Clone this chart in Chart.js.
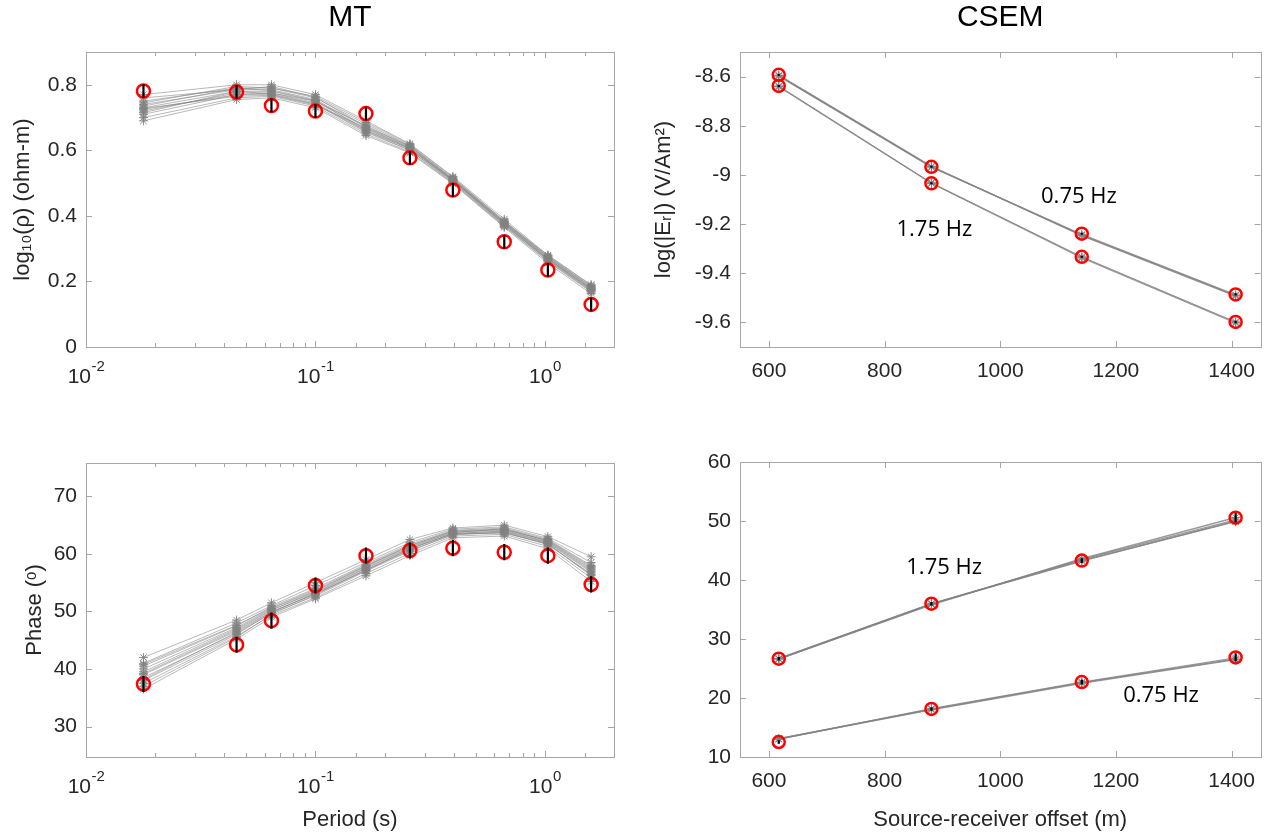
<!DOCTYPE html>
<html>
<head>
<meta charset="utf-8">
<script src="https://cdn.jsdelivr.net/npm/chart.js@4.4.1/dist/chart.umd.min.js"></script>
<style>
    body { margin: 0; background: #fff; width: 1269px; height: 840px; overflow: hidden; position: relative; }
    canvas { position: absolute; }
</style>
</head>
<body>
<canvas id="rhoChart" width="640" height="400" style="left:0px;top:0px"></canvas>
<canvas id="phaseChart" width="640" height="420" style="left:0px;top:420px"></canvas>
<canvas id="ampChart" width="629" height="400" style="left:640px;top:0px"></canvas>
<canvas id="csemPhaseChart" width="629" height="420" style="left:640px;top:420px"></canvas>
<script>
// ---- MT data (period in s) ----
const periods = [0.0178, 0.0453, 0.0643, 0.1, 0.166, 0.258, 0.397, 0.665, 1.03, 1.59];

const rhoObs = [0.781, 0.778, 0.737, 0.720, 0.712, 0.577, 0.479, 0.321, 0.235, 0.130];
const rhoErr = [0.021, 0.021, 0.021, 0.021, 0.021, 0.021, 0.021, 0.021, 0.021, 0.021];
const rhoModels = [
    [0.770, 0.800, 0.800, 0.770, 0.690, 0.620, 0.520, 0.390, 0.280, 0.190],
    [0.750, 0.790, 0.790, 0.760, 0.680, 0.615, 0.515, 0.385, 0.275, 0.185],
    [0.740, 0.785, 0.785, 0.755, 0.670, 0.610, 0.510, 0.380, 0.272, 0.180],
    [0.730, 0.780, 0.780, 0.750, 0.665, 0.608, 0.510, 0.378, 0.270, 0.178],
    [0.720, 0.775, 0.775, 0.745, 0.660, 0.605, 0.508, 0.375, 0.268, 0.176],
    [0.710, 0.770, 0.770, 0.740, 0.655, 0.600, 0.505, 0.372, 0.265, 0.172],
    [0.700, 0.760, 0.765, 0.735, 0.650, 0.595, 0.500, 0.368, 0.260, 0.168],
    [0.690, 0.755, 0.760, 0.730, 0.645, 0.592, 0.498, 0.365, 0.255, 0.163],
    [0.745, 0.795, 0.790, 0.765, 0.685, 0.618, 0.518, 0.383, 0.280, 0.188],
    [0.725, 0.770, 0.775, 0.750, 0.675, 0.612, 0.512, 0.380, 0.274, 0.182],
    [0.735, 0.790, 0.782, 0.752, 0.662, 0.604, 0.506, 0.374, 0.266, 0.174],
    [0.715, 0.780, 0.772, 0.742, 0.658, 0.600, 0.502, 0.370, 0.262, 0.170],
    [0.728, 0.765, 0.768, 0.738, 0.668, 0.606, 0.509, 0.376, 0.269, 0.177],
    [0.760, 0.785, 0.795, 0.762, 0.672, 0.613, 0.513, 0.382, 0.277, 0.184]
];

const phaseObs = [37.4, 44.2, 48.4, 54.5, 59.7, 60.6, 61.0, 60.3, 59.7, 54.7];
const phaseErr = [1.4, 1.4, 1.4, 1.4, 1.4, 1.4, 1.4, 1.4, 1.4, 1.4];
const phaseModels = [
    [42.0, 48.5, 51.5, 55.0, 59.0, 62.5, 64.5, 65.0, 63.0, 59.5],
    [41.0, 48.0, 51.0, 54.5, 58.5, 62.0, 64.3, 64.7, 62.7, 58.5],
    [40.5, 47.5, 50.8, 54.0, 58.2, 61.7, 64.1, 64.5, 62.5, 58.0],
    [40.0, 47.2, 50.5, 53.6, 57.9, 61.4, 64.0, 64.3, 62.3, 57.6],
    [39.5, 47.0, 50.3, 53.3, 57.6, 61.1, 63.8, 64.1, 62.1, 57.2],
    [39.0, 46.6, 50.0, 53.0, 57.3, 60.8, 63.6, 63.9, 61.9, 56.8],
    [38.5, 46.2, 49.7, 52.7, 57.0, 60.5, 63.4, 63.7, 61.7, 56.4],
    [37.5, 45.7, 49.3, 52.4, 56.6, 60.1, 63.1, 63.4, 61.3, 55.8],
    [36.5, 45.2, 49.0, 52.2, 56.2, 59.7, 62.8, 63.1, 60.9, 55.2],
    [38.0, 46.0, 49.8, 53.2, 57.5, 61.0, 63.5, 64.0, 62.0, 57.0],
    [40.8, 47.6, 50.6, 53.8, 58.0, 61.5, 63.9, 64.2, 62.4, 57.8],
    [37.0, 45.5, 49.5, 52.9, 57.2, 60.6, 63.3, 63.8, 61.6, 56.5],
    [39.2, 46.8, 50.2, 53.5, 57.8, 61.3, 63.7, 64.4, 62.2, 57.4],
    [38.2, 46.4, 49.9, 53.1, 57.1, 60.9, 63.5, 63.6, 61.8, 56.2]
];

// ---- CSEM data (source-receiver offset in m) ----
const offsets = [617, 881, 1141, 1407];

const ampObs075 = [-8.593, -8.967, -9.239, -9.486];
const ampObs175 = [-8.638, -9.034, -9.333, -9.598];
const ampErr = [0.004, 0.004, 0.004, 0.005];
const ampModels075 = [
    [-8.596, -8.966, -9.245, -9.490],
    [-8.598, -8.969, -9.242, -9.488],
    [-8.594, -8.965, -9.247, -9.493]
];
const ampModels175 = [
    [-8.640, -9.033, -9.335, -9.600],
    [-8.642, -9.035, -9.338, -9.603],
    [-8.638, -9.032, -9.333, -9.598]
];

const cphObs175 = [26.66, 35.98, 43.30, 50.56];
const cphObs075 = [12.54, 18.14, 22.70, 26.88];
const cphErr175 = [0.3, 0.3, 0.4, 0.8];
const cphErr075 = [0.3, 0.3, 0.4, 0.7];
const cphModels175 = [
    [26.60, 35.90, 43.50, 50.20],
    [26.70, 36.00, 43.30, 49.90],
    [26.60, 35.80, 43.60, 50.60],
    [26.65, 35.95, 43.20, 50.00]
];
const cphModels075 = [
    [13.10, 18.10, 22.60, 26.60],
    [13.00, 18.20, 22.70, 26.80],
    [13.10, 18.00, 22.50, 26.50]
];

// frequency annotations (data coordinates)
const ampLabels = [
    { text: '0.75 Hz', x: 1136, y: -9.089 },
    { text: '1.75 Hz', x: 886, y: -9.224 }
];
const cphLabels = [
    { text: '1.75 Hz', x: 903, y: 42.0 },
    { text: '0.75 Hz', x: 1278, y: 20.3 }
];

// ---- tick labels ----
const periodTicks = [0.01, 0.1, 1];
const rhoTicks = [0, 0.2, 0.4, 0.6, 0.8];
const phaseTicks = [30, 40, 50, 60, 70];
const offsetTicks = [600, 800, 1000, 1200, 1400];
const ampTicks = [-9.6, -9.4, -9.2, -9, -8.8, -8.6];
const cphTicks = [10, 20, 30, 40, 50, 60];

const fam = "'Liberation Sans', Arial, sans-serif";
const tickFont = { family: fam, size: 21 };
const labelFont = { family: fam, size: 22 };
const titleFont = { family: fam, size: 30, weight: 'normal' };
const axisColor = '#a6a6a6';
const textColor = '#262626';

function toPoints(xs, ys) {
    return xs.map((x, i) => ({ x: x, y: ys[i] }));
}

function modelSet(xs, ys, width) {
    return {
        data: toPoints(xs, ys),
        showLine: true,
        borderColor: 'rgba(130,130,130,0.8)',
        borderWidth: width,
        pointStyle: 'star',
        pointRadius: 4.5,
        pointBorderColor: 'rgba(130,130,130,0.9)',
        pointBorderWidth: 1,
        order: 2
    };
}

function obsSet(xs, ys, r) {
    return {
        data: toPoints(xs, ys),
        showLine: false,
        pointStyle: 'circle',
        pointRadius: r,
        pointBorderColor: '#ff0000',
        pointBackgroundColor: 'rgba(0,0,0,0)',
        pointBorderWidth: 2.5,
        order: 0
    };
}

// box round the axes with inward ticks on all four sides (MATLAB look)
const boxPlugin = {
    id: 'boxTicks',
    beforeDatasetsDraw(chart) {
        const ctx = chart.ctx, a = chart.chartArea;
        const xs = chart.scales.x, ys = chart.scales.y;
        ctx.save();
        ctx.strokeStyle = axisColor;
        ctx.lineWidth = 1;
        ctx.strokeRect(Math.round(a.left) + 0.5, Math.round(a.top) + 0.5,
            Math.round(a.right - a.left), Math.round(a.bottom - a.top));
        ctx.beginPath();
        xs.ticks.forEach(t => {
            if (t.value < xs.min || t.value > xs.max) return;
            let len = 6;
            if (xs.type === 'logarithmic') {
                const lg = Math.log10(t.value);
                if (Math.abs(lg - Math.round(lg)) > 1e-6) len = 4;
            }
            const px = Math.round(xs.getPixelForValue(t.value)) + 0.5;
            ctx.moveTo(px, a.bottom); ctx.lineTo(px, a.bottom - len);
            ctx.moveTo(px, a.top); ctx.lineTo(px, a.top + len);
        });
        ys.ticks.forEach(t => {
            const py = Math.round(ys.getPixelForValue(t.value)) + 0.5;
            ctx.moveTo(a.left, py); ctx.lineTo(a.left + 6, py);
            ctx.moveTo(a.right, py); ctx.lineTo(a.right - 6, py);
        });
        ctx.stroke();
        ctx.restore();
    }
};

// black error bars, log tick labels and frequency labels
const extrasPlugin = {
    id: 'extras',
    afterDatasetsDraw(chart, args, opts) {
        const ctx = chart.ctx, a = chart.chartArea;
        const xs = chart.scales.x, ys = chart.scales.y;
        ctx.save();
        (opts.bars || []).forEach(b => {
            ctx.strokeStyle = '#000';
            ctx.lineWidth = 2.2;
            ctx.beginPath();
            b.xs.forEach((x, i) => {
                const px = xs.getPixelForValue(x);
                ctx.moveTo(px, ys.getPixelForValue(b.ys[i] - b.err[i]));
                ctx.lineTo(px, ys.getPixelForValue(b.ys[i] + b.err[i]));
            });
            ctx.stroke();
        });
        if (opts.logLabels) {
            ctx.fillStyle = textColor;
            ctx.textBaseline = 'middle';
            ctx.textAlign = 'left';
            opts.logLabels.forEach(v => {
                const px = xs.getPixelForValue(v);
                const ex = String(Math.round(Math.log10(v)));
                ctx.font = tickFont.size + 'px ' + fam;
                const w1 = ctx.measureText('10').width;
                ctx.font = '15px ' + fam;
                const w2 = ctx.measureText(ex).width;
                const x0 = px - (w1 + w2) / 2;
                const y0 = a.bottom + 30;
                ctx.font = tickFont.size + 'px ' + fam;
                ctx.fillText('10', x0, y0);
                ctx.font = '15px ' + fam;
                ctx.fillText(ex, x0 + w1 + 0.5, y0 - 10);
            });
        }
        if (opts.labels) {
            ctx.fillStyle = '#000';
            ctx.font = "22px 'Open Sans', Lato, sans-serif";
            ctx.textAlign = 'center';
            ctx.textBaseline = 'middle';
            opts.labels.forEach(l => {
                ctx.fillText(l.text, xs.getPixelForValue(l.x), ys.getPixelForValue(l.y));
            });
        }
        ctx.restore();
    }
};

function yAxis(min, max, ticks, width, title, titlePad) {
    return {
        type: 'linear', min: min, max: max,
        afterBuildTicks: s => { s.ticks = ticks.map(v => ({ value: v })); },
        afterFit: s => { s.width = width; s.paddingTop = 0; s.paddingBottom = 0; },
        grid: { display: false, drawTicks: false },
        border: { display: false },
        ticks: { font: tickFont, color: textColor, padding: 9, callback: v => String(v) },
        title: { display: !!title, text: title || '', font: labelFont, color: textColor, padding: titlePad || 0 }
    };
}

function logXAxis(height, title) {
    return {
        type: 'logarithmic', min: 0.01, max: 2,
        afterFit: s => { s.height = height; s.paddingLeft = 0; s.paddingRight = 0; },
        grid: { display: false, drawTicks: false },
        border: { display: false },
        ticks: { autoSkip: false, maxRotation: 0, callback: () => '' },
        title: { display: !!title, text: title || '', font: labelFont, color: textColor, padding: 7 }
    };
}

function offsetAxis(height, title) {
    return {
        type: 'linear', min: 550, max: 1450,
        afterBuildTicks: s => { s.ticks = offsetTicks.map(v => ({ value: v })); },
        afterFit: s => { s.height = height; s.paddingLeft = 0; s.paddingRight = 0; },
        grid: { display: false, drawTicks: false },
        border: { display: false },
        ticks: { font: tickFont, color: textColor, padding: 12, maxRotation: 0, autoSkip: false, callback: v => String(v) },
        title: { display: !!title, text: title || '', font: labelFont, color: textColor, padding: 7 }
    };
}

function baseOptions(scales, padding, title, extras) {
    return {
        responsive: false,
        animation: false,
        layout: { padding: padding },
        scales: scales,
        plugins: {
            legend: { display: false },
            tooltip: { enabled: false },
            title: title ? {
                display: true, text: title, fullSize: false, font: titleFont, color: '#000',
                padding: { top: 0, bottom: 16 }
            } : { display: false },
            extras: extras
        }
    };
}

// MT apparent resistivity
new Chart(document.getElementById('rhoChart'), {
    type: 'scatter',
    data: { datasets: rhoModels.map(m => modelSet(periods, m, 0.7)).concat([obsSet(periods, rhoObs, 6.5)]) },
    options: baseOptions(
        { x: logXAxis(53), y: yAxis(0, 0.9, rhoTicks, 86, 'log\u2081\u2080(\u03C1) (ohm-m)', 10) },
        { left: 0, right: 26, top: 0, bottom: 0 }, 'MT',
        { bars: [{ xs: periods, ys: rhoObs, err: rhoErr }], logLabels: periodTicks }),
    plugins: [boxPlugin, extrasPlugin]
});

// MT phase
new Chart(document.getElementById('phaseChart'), {
    type: 'scatter',
    data: { datasets: phaseModels.map(m => modelSet(periods, m, 0.7)).concat([obsSet(periods, phaseObs, 6.5)]) },
    options: baseOptions(
        { x: logXAxis(83, 'Period (s)'), y: yAxis(24.7, 75.8, phaseTicks, 86, 'Phase (\u1D52)', 22) },
        { left: 0, right: 26, top: 43, bottom: 0 }, null,
        { bars: [{ xs: periods, ys: phaseObs, err: phaseErr }], logLabels: periodTicks }),
    plugins: [boxPlugin, extrasPlugin]
});

// CSEM amplitude
new Chart(document.getElementById('ampChart'), {
    type: 'scatter',
    data: {
        datasets: ampModels075.map(m => modelSet(offsets, m, 1.3))
            .concat(ampModels175.map(m => modelSet(offsets, m, 1.0)))
            .concat([obsSet(offsets, ampObs075, 6), obsSet(offsets, ampObs175, 6)])
    },
    options: baseOptions(
        { x: offsetAxis(53), y: yAxis(-9.7, -8.5, ampTicks, 100, 'log(|E\u1D63|) (V/Am\u00B2)', 11) },
        { left: 0, right: 8, top: 0, bottom: 0 }, 'CSEM',
        { bars: [{ xs: offsets, ys: ampObs075, err: ampErr }, { xs: offsets, ys: ampObs175, err: ampErr }], labels: ampLabels }),
    plugins: [boxPlugin, extrasPlugin]
});

// CSEM phase
new Chart(document.getElementById('csemPhaseChart'), {
    type: 'scatter',
    data: {
        datasets: cphModels175.map(m => modelSet(offsets, m, 1.4))
            .concat(cphModels075.map(m => modelSet(offsets, m, 1.4)))
            .concat([obsSet(offsets, cphObs175, 6), obsSet(offsets, cphObs075, 6)])
    },
    options: baseOptions(
        { x: offsetAxis(83, 'Source-receiver offset (m)'), y: yAxis(10, 60, cphTicks, 100) },
        { left: 0, right: 8, top: 42, bottom: 0 }, null,
        { bars: [{ xs: offsets, ys: cphObs175, err: cphErr175 }, { xs: offsets, ys: cphObs075, err: cphErr075 }], labels: cphLabels }),
    plugins: [boxPlugin, extrasPlugin]
});
</script>
</body>
</html>
